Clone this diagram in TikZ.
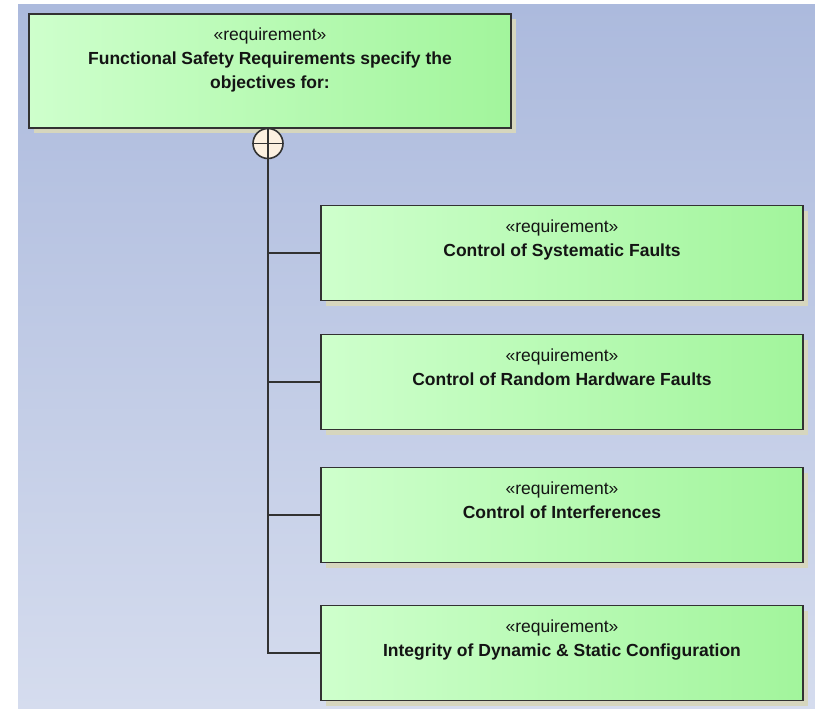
\documentclass[tikz,border=0pt]{standalone}
\usepackage{fontspec}
\setmainfont{Liberation Sans}
\usetikzlibrary{shadows}
\definecolor{bgtop}{RGB}{172,186,221}
\definecolor{bgbot}{RGB}{213,220,238}
\definecolor{reqleft}{RGB}{206,255,204}
\definecolor{reqright}{RGB}{162,245,156}
\definecolor{edgecol}{RGB}{50,50,50}
\definecolor{shadowcol}{RGB}{214,214,190}
\definecolor{nestfill}{RGB}{252,240,224}
\definecolor{ink}{RGB}{20,20,20}

\begin{document}
\begin{tikzpicture}[x=1pt,y=-1pt,
  reqbox/.style={rectangle, draw=edgecol, line width=1.8pt,
    left color=reqleft, right color=reqright,
    minimum width=482pt, minimum height=95pt, inner sep=0pt,
    drop shadow={shadow xshift=5pt, shadow yshift=-5pt, fill=shadowcol, opacity=1}},
  reqtext/.style={anchor=base, align=center, text=ink, inner sep=0pt,
    font=\fontsize{17.5}{24}\selectfont},
  link/.style={draw=edgecol, line width=1.8pt},
]
\useasboundingbox (0,0) rectangle (815,709);
\fill[white] (0,0) rectangle (815,709);
\shade[top color=bgtop, bottom color=bgbot] (18,5) rectangle (815,709);

% parent requirement (text anchored on the baseline of its last line)
\node[reqbox, minimum height=114pt] (top) at (270,71) {};
\node[reqtext] (toptext) at ([yshift=-75pt]top.north)
  {«requirement»\\\textbf{Functional Safety Requirements specify the}\\\textbf{objectives for:}};

% child requirements
\node[reqbox] (c1) at (562,253) {};
\node[reqbox] (c2) at (562,382) {};
\node[reqbox] (c3) at (562,515) {};
\node[reqbox] (c4) at (562,653) {};
\node[reqtext] (t1) at ([yshift=-52pt]c1.north) {«requirement»\\\textbf{Control of Systematic Faults}};
\node[reqtext] (t2) at ([yshift=-52pt]c2.north) {«requirement»\\\textbf{Control of Random Hardware Faults}};
\node[reqtext] (t3) at ([yshift=-52pt]c3.north) {«requirement»\\\textbf{Control of Interferences}};
\node[reqtext] (t4) at ([yshift=-52pt]c4.north) {«requirement»\\\textbf{Integrity of Dynamic \& Static Configuration}};

% containment (nesting) anchor
\node[circle, draw=edgecol, line width=1.6pt, fill=nestfill, minimum size=30pt, inner sep=0pt,
  path picture={
    \draw[edgecol, line width=1.4pt] (path picture bounding box.north) -- (path picture bounding box.south);
    \draw[edgecol, line width=1.4pt] (path picture bounding box.west) -- (path picture bounding box.east);
  }] (nest) at (268,143.5) {};

\foreach \c in {c1,c2,c3,c4}
  \draw[link] (nest.south) |- (\c.west);
\end{tikzpicture}
\end{document}
